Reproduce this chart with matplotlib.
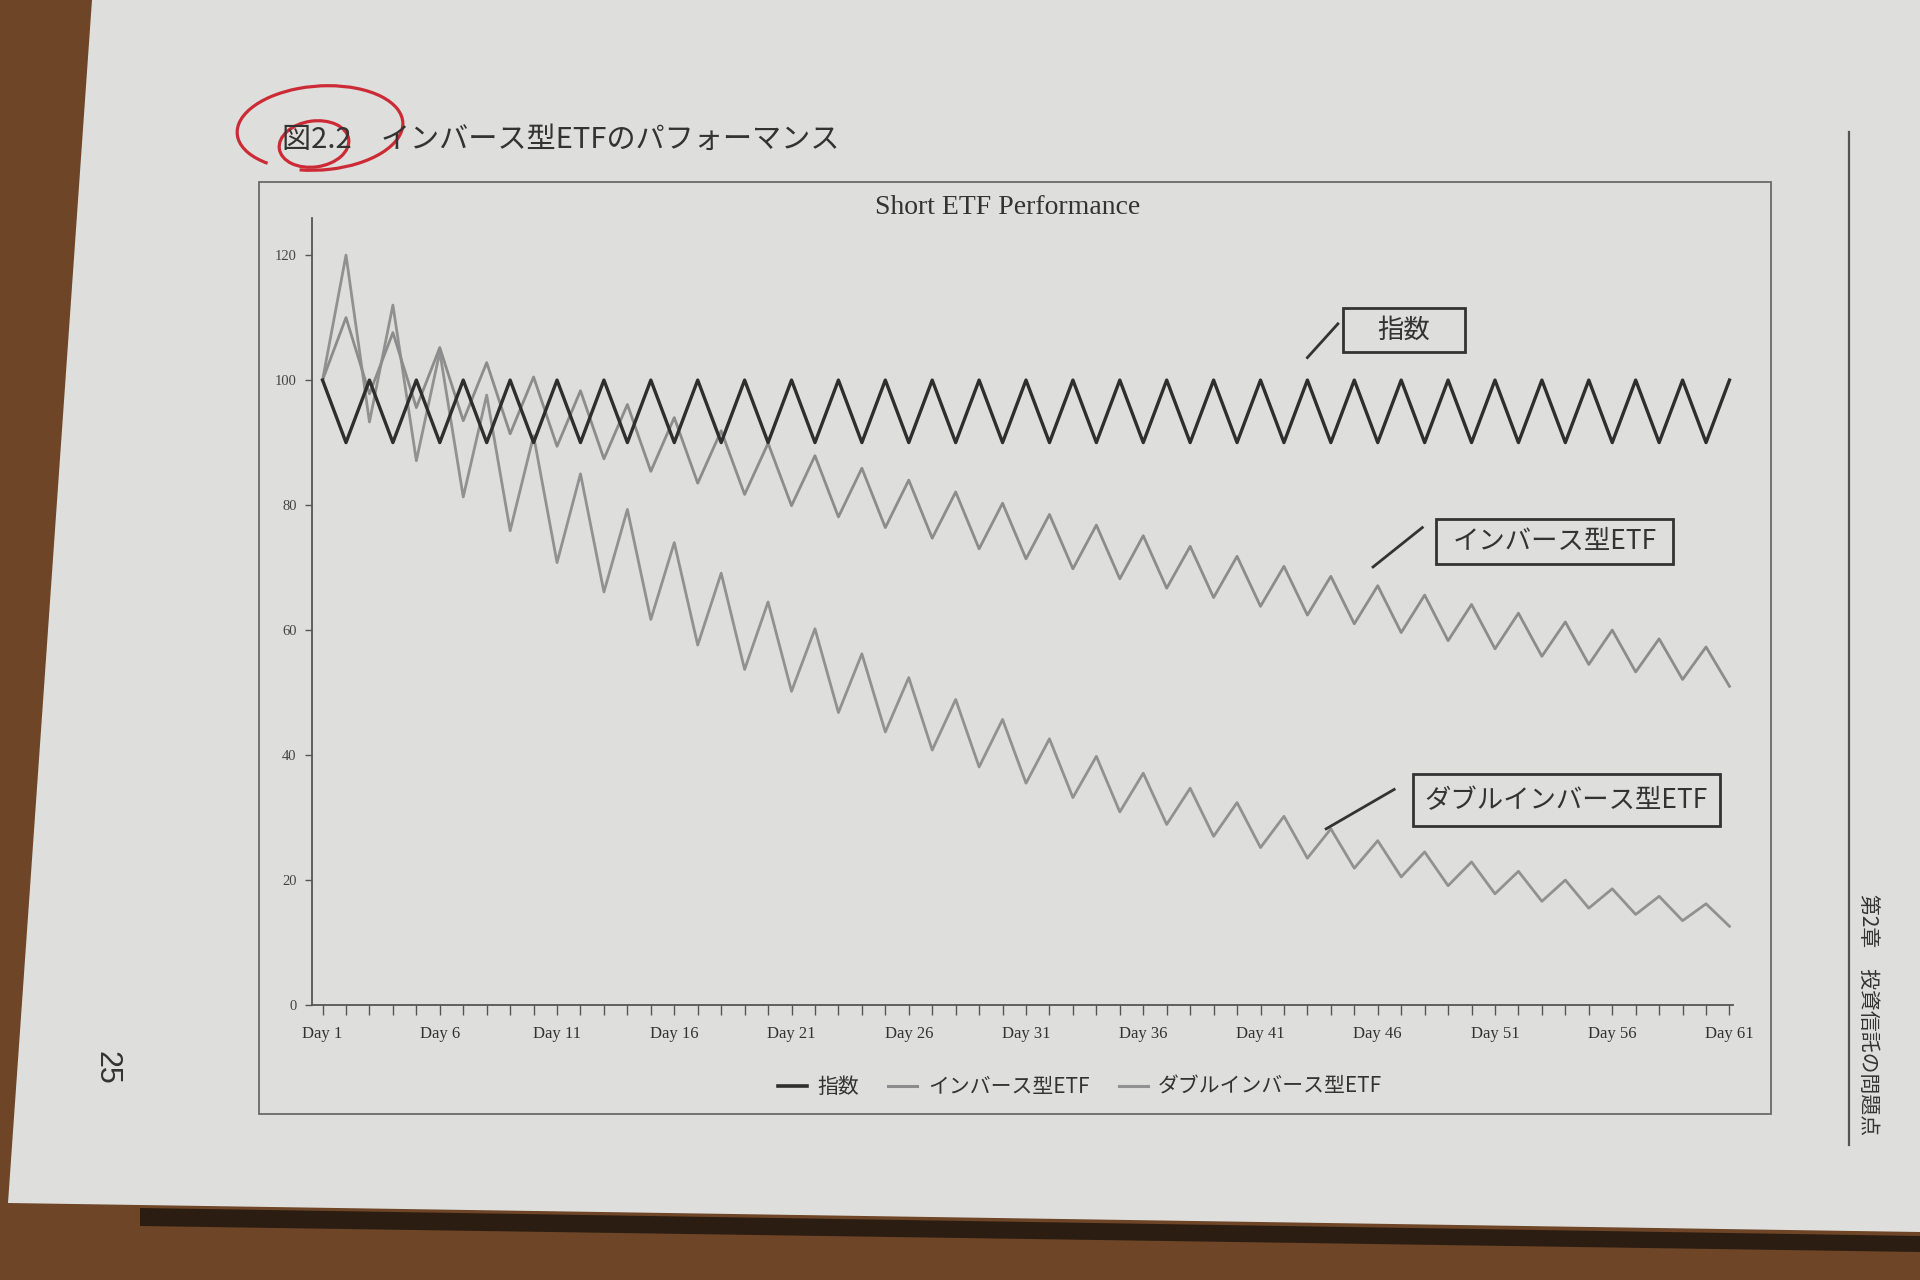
import matplotlib
matplotlib.use("Agg")
import matplotlib.pyplot as plt
from matplotlib.patches import Polygon, Rectangle, Arc, Ellipse
from matplotlib.lines import Line2D

# ====== DATA ======
DAYS = list(range(1, 62))
DAY_TICKS = [1, 6, 11, 16, 21, 26, 31, 36, 41, 46, 51, 56, 61]
DAY_LABELS = ["Day 1", "Day 6", "Day 11", "Day 16", "Day 21", "Day 26", "Day 31",
              "Day 36", "Day 41", "Day 46", "Day 51", "Day 56", "Day 61"]
Y_TICKS = [0, 20, 40, 60, 80, 100, 120]
SERIES_NAMES = ["指数", "インバース型ETF", "ダブルインバース型ETF"]

INDEX = [100, 90, 100, 90, 100, 90, 100, 90, 100, 90,
         100, 90, 100, 90, 100, 90, 100, 90, 100, 90,
         100, 90, 100, 90, 100, 90, 100, 90, 100, 90,
         100, 90, 100, 90, 100, 90, 100, 90, 100, 90,
         100, 90, 100, 90, 100, 90, 100, 90, 100, 90,
         100, 90, 100, 90, 100, 90, 100, 90, 100, 90,
         100]
INVERSE = [100.0, 110.0, 97.8, 107.6, 95.6, 105.2, 93.5, 102.8, 91.4, 100.5,
           89.4, 98.3, 87.4, 96.1, 85.4, 94.0, 83.5, 91.9, 81.7, 89.9,
           79.9, 87.9, 78.1, 85.9, 76.4, 84.0, 74.7, 82.1, 73.0, 80.3,
           71.4, 78.5, 69.8, 76.8, 68.2, 75.1, 66.7, 73.4, 65.2, 71.8,
           63.8, 70.2, 62.4, 68.6, 61.0, 67.1, 59.6, 65.6, 58.3, 64.1,
           57.0, 62.7, 55.8, 61.3, 54.5, 60.0, 53.3, 58.6, 52.1, 57.3,
           51.0]
DOUBLE_INVERSE = [100.0, 120.0, 93.3, 112.0, 87.1, 104.5, 81.3, 97.6, 75.9, 91.1,
                  70.8, 85.0, 66.1, 79.3, 61.7, 74.0, 57.6, 69.1, 53.7, 64.5,
                  50.2, 60.2, 46.8, 56.2, 43.7, 52.4, 40.8, 48.9, 38.1, 45.7,
                  35.5, 42.6, 33.2, 39.8, 30.9, 37.1, 28.9, 34.7, 27.0, 32.4,
                  25.2, 30.2, 23.5, 28.2, 21.9, 26.3, 20.5, 24.5, 19.1, 22.9,
                  17.8, 21.4, 16.6, 20.0, 15.5, 18.6, 14.5, 17.4, 13.5, 16.2,
                  12.6]
# ========================================

JP = ["Noto Sans CJK JP", "DejaVu Sans"]
SERIF = "Liberation Serif"
PAGE = "#dedfdc"
WOOD = "#6e4526"
INK = "#333333"
C_INDEX = "#2e2e2e"
C_INV = "#8c8c8c"
C_DBL = "#919191"

W, H = 1920, 1280
fig = plt.figure(figsize=(W / 100, H / 100), dpi=100)
fig.patch.set_facecolor(WOOD)

# ---------- page (pixel coords, y down) ----------
page = fig.add_axes([0, 0, 1, 1], zorder=0)
page.set_xlim(0, W); page.set_ylim(H, 0)
page.axis("off")
page.add_patch(Polygon([(140, 1208), (W, 1236), (W, 1252), (140, 1226)],
                       closed=True, facecolor="#2b1d12", edgecolor="none"))
page.add_patch(Polygon([(92, 0), (W, 0), (W, 1232), (8, 1203)],
                       closed=True, facecolor=PAGE, edgecolor="none"))

# frame around the chart
page.add_patch(Rectangle((259, 182), 1512, 932, fill=False, edgecolor="#6a6a6a", lw=1.3))

# figure caption + red pen mark
page.text(282, 140, "図2.2　インバース型ETFのパフォーマンス", fontsize=21,
          family=JP, color=INK, va="center", ha="left")
page.add_patch(Arc((320, 128), 166, 84, angle=-4, theta1=150, theta2=120,
                   color="#cc2b36", lw=2.3))
page.add_patch(Ellipse((314, 144), 70, 46, angle=-8, fill=False,
                       edgecolor="#cc2b36", lw=2.3))

# page number and running head
page.text(106, 1068, "25", rotation=-90, fontsize=22, family="Liberation Sans",
          color=INK, ha="center", va="center")
page.plot([1849, 1849], [132, 1145], color="#555555", lw=1.6)
page.text(1868, 1015, "第2章　投資信託の問題点", rotation=-90, fontsize=15,
          family=JP, color=INK, ha="center", va="center")

# ---------- chart ----------
ax = fig.add_axes([0.1625, 0.2148, 0.7401, 0.6152], zorder=1)
ax.patch.set_alpha(0)

ax.plot(DAYS, DOUBLE_INVERSE, color=C_DBL, lw=2.0, label=SERIES_NAMES[2], zorder=2)
ax.plot(DAYS, INVERSE, color=C_INV, lw=2.0, label=SERIES_NAMES[1], zorder=3)
ax.plot(DAYS, INDEX, color=C_INDEX, lw=2.4, label=SERIES_NAMES[0], zorder=4)

ax.set_xlim(0.55, 61.15)
ax.set_ylim(0, 126)
for s in ("top", "right"):
    ax.spines[s].set_visible(False)
for s in ("left", "bottom"):
    ax.spines[s].set_color("#555555")
    ax.spines[s].set_linewidth(1.3)

ax.set_yticks(Y_TICKS)
ax.set_yticklabels([str(v) for v in Y_TICKS], family=SERIF, fontsize=10.5, color="#444444")
ax.set_xticks(DAY_TICKS)
ax.set_xticklabels(DAY_LABELS, family=SERIF, fontsize=12, color="#333333")
ax.set_xticks(DAYS, minor=True)
ax.tick_params(axis="y", length=5, width=1, color="#555555", pad=6)
ax.tick_params(axis="x", which="both", length=7, width=1, color="#555555", pad=8)

fig.text(1008 / W, 1 - 207 / H, "Short ETF Performance", family=SERIF, fontsize=20,
         color=INK, ha="center", va="center")

# callout boxes with leader lines (data coords)
callouts = [
    (SERIES_NAMES[0], (44.5, 104.5), 5.2, 7.0, (43.0, 103.6), (44.3, 109.0)),
    (SERIES_NAMES[1], (48.5, 70.5), 10.1, 7.3, (45.8, 70.1), (47.9, 76.4)),
    (SERIES_NAMES[2], (47.5, 28.6), 13.1, 8.3, (43.8, 28.2), (46.7, 34.5)),
]
for name, (x0, y0), bw, bh, p1, p2 in callouts:
    ax.add_patch(Rectangle((x0, y0), bw, bh, fill=False, edgecolor="#333333",
                           lw=2.0, zorder=5, clip_on=False))
    ax.text(x0 + bw / 2, y0 + bh / 2, name, family=JP, fontsize=19, color="#333333",
            ha="center", va="center", zorder=6)
    ax.plot([p1[0], p2[0]], [p1[1], p2[1]], color="#333333", lw=2.0, zorder=5)

# legend under the axis
handles = [Line2D([], [], color=C_INDEX, lw=2.6),
           Line2D([], [], color=C_INV, lw=2.2),
           Line2D([], [], color=C_DBL, lw=2.2)]
fig.legend(handles, SERIES_NAMES, loc="center", bbox_to_anchor=(1080 / W, 1 - 1087 / H),
           ncol=3, frameon=False, handlelength=1.4, handletextpad=0.5, columnspacing=1.4,
           prop={"family": JP, "size": 15}, labelcolor=INK)

fig.savefig("out.png", dpi=100, facecolor=fig.get_facecolor())
